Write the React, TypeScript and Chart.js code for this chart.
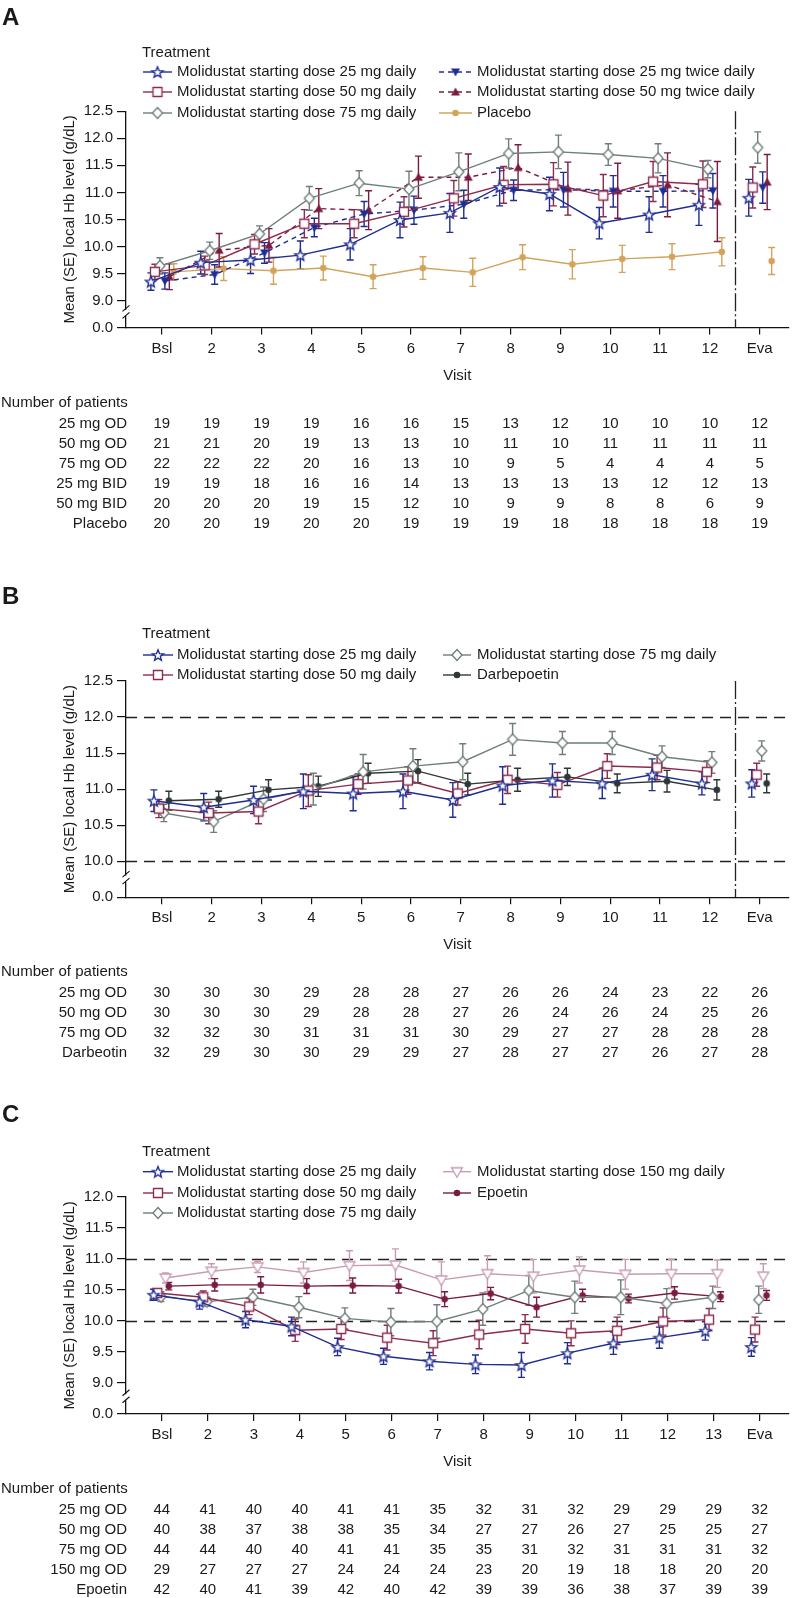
import React, { useEffect, useRef } from 'react';
import { Chart, registerables } from 'chart.js';

Chart.register(...registerables);

const FONT = "'Liberation Sans', Arial, Helvetica, sans-serif";
const TXT = '#1a1a1a';

Chart.defaults.font.family = FONT;
Chart.defaults.font.size = 15;
Chart.defaults.color = TXT;

// ---------------- Panel A ----------------
const visitsA = ['Bsl', '2', '3', '4', '5', '6', '7', '8', '9', '10', '11', '12', 'Eva'];
const yTicksA = [8.5, 9.0, 9.5, 10.0, 10.5, 11.0, 11.5, 12.0, 12.5];

const a25od = [9.35, 9.70, 9.75, 9.84, 10.04, 10.49, 10.62, 11.10, 10.97, 10.43, 10.59, 10.77, 10.90];
const a25odSe = [0.16, 0.21, 0.25, 0.26, 0.29, 0.33, 0.36, 0.35, 0.31, 0.29, 0.33, 0.38, 0.34];
const a50od = [9.53, 9.65, 10.04, 10.42, 10.42, 10.64, 10.89, 11.14, 11.15, 10.94, 11.20, 11.15, 11.09];
const a50odSe = [0.14, 0.17, 0.18, 0.26, 0.26, 0.28, 0.33, 0.34, 0.40, 0.39, 0.37, 0.43, 0.38];
const a75od = [9.64, 9.92, 10.23, 10.89, 11.17, 11.06, 11.38, 11.72, 11.75, 11.70, 11.63, 11.43, 11.83];
const a75odSe = [0.15, 0.16, 0.15, 0.22, 0.23, 0.33, 0.35, 0.27, 0.31, 0.20, 0.27, 0.16, 0.29];
const a25bid = [9.36, 9.48, 9.88, 10.35, 10.60, 10.67, 10.78, 11.04, 11.05, 11.02, 11.02, 11.03, 11.09];
const a25bidSe = [0.15, 0.18, 0.19, 0.17, 0.23, 0.26, 0.26, 0.19, 0.32, 0.29, 0.29, 0.32, 0.29];
const a50bid = [9.44, 9.93, 10.02, 10.70, 10.67, 11.28, 11.28, 11.46, 11.07, 11.03, 11.14, 10.83, 11.19];
const a50bidSe = [0.24, 0.31, 0.31, 0.37, 0.36, 0.39, 0.43, 0.42, 0.49, 0.51, 0.59, 0.74, 0.51];
const aPlacebo = [9.53, 9.59, 9.55, 9.60, 9.44, 9.60, 9.52, 9.80, 9.67, 9.77, 9.81, 9.90, 9.73];
const aPlaceboSe = [0.15, 0.22, 0.25, 0.22, 0.22, 0.21, 0.26, 0.23, 0.27, 0.25, 0.24, 0.26, 0.25];

const nA25od = [19, 19, 19, 19, 16, 16, 15, 13, 12, 10, 10, 10, 12];
const nA50od = [21, 21, 20, 19, 13, 13, 10, 11, 10, 11, 11, 11, 11];
const nA75od = [22, 22, 22, 20, 16, 13, 10, 9, 5, 4, 4, 4, 5];
const nA25bid = [19, 19, 18, 16, 16, 14, 13, 13, 13, 13, 12, 12, 13];
const nA50bid = [20, 20, 20, 19, 15, 12, 10, 9, 9, 8, 8, 6, 9];
const nAPlacebo = [20, 20, 19, 20, 20, 19, 19, 19, 18, 18, 18, 18, 19];

// ---------------- Panel B ----------------
const visitsB = ['Bsl', '2', '3', '4', '5', '6', '7', '8', '9', '10', '11', '12', 'Eva'];
const yTicksB = [9.5, 10.0, 10.5, 11.0, 11.5, 12.0, 12.5];

const b25 = [10.84, 10.75, 10.85, 10.97, 10.94, 10.97, 10.85, 11.05, 11.12, 11.08, 11.20, 11.08, 11.08];
const b25Se = [0.15, 0.19, 0.19, 0.24, 0.24, 0.24, 0.24, 0.26, 0.23, 0.21, 0.22, 0.16, 0.19];
const b50 = [10.73, 10.67, 10.69, 10.98, 11.07, 11.12, 10.94, 11.13, 11.06, 11.32, 11.30, 11.24, 11.20];
const b50Se = [0.125, 0.15, 0.17, 0.22, 0.14, 0.19, 0.16, 0.19, 0.17, 0.17, 0.17, 0.15, 0.16];
const b75 = [10.67, 10.55, 10.86, 11.00, 11.24, 11.32, 11.38, 11.69, 11.64, 11.64, 11.45, 11.37, 11.53];
const b75Se = [0.12, 0.15, 0.17, 0.22, 0.24, 0.24, 0.25, 0.22, 0.16, 0.16, 0.15, 0.15, 0.14];
const bDarbe = [10.84, 10.86, 10.99, 11.04, 11.22, 11.25, 11.07, 11.13, 11.17, 11.08, 11.11, 10.99, 11.08];
const bDarbeSe = [0.13, 0.11, 0.14, 0.14, 0.14, 0.16, 0.15, 0.16, 0.12, 0.13, 0.15, 0.14, 0.13];

const nB25 = [30, 30, 30, 29, 28, 28, 27, 26, 26, 24, 23, 22, 26];
const nB50 = [30, 30, 30, 29, 28, 28, 27, 26, 24, 26, 24, 25, 26];
const nB75 = [32, 32, 30, 31, 31, 31, 30, 29, 27, 27, 28, 28, 28];
const nBDarbe = [32, 29, 30, 30, 29, 29, 27, 28, 27, 27, 26, 27, 28];

// ---------------- Panel C ----------------
const visitsC = ['Bsl', '2', '3', '4', '5', '6', '7', '8', '9', '10', '11', '12', '13', 'Eva'];
const yTicksC = [8.5, 9.0, 9.5, 10.0, 10.5, 11.0, 11.5, 12.0];

const c25 = [10.42, 10.31, 10.02, 9.91, 9.58, 9.43, 9.35, 9.30, 9.29, 9.48, 9.64, 9.73, 9.84, 9.58];
const c25Se = [0.09, 0.12, 0.13, 0.15, 0.14, 0.13, 0.14, 0.15, 0.20, 0.17, 0.18, 0.17, 0.15, 0.15];
const c50 = [10.45, 10.38, 10.23, 9.85, 9.87, 9.73, 9.64, 9.78, 9.87, 9.80, 9.84, 9.99, 10.02, 9.86];
const c50Se = [0.06, 0.10, 0.13, 0.18, 0.17, 0.20, 0.20, 0.23, 0.23, 0.20, 0.22, 0.22, 0.18, 0.20];
const c75 = [10.39, 10.31, 10.38, 10.22, 10.04, 9.98, 9.99, 10.19, 10.49, 10.38, 10.38, 10.28, 10.38, 10.34];
const c75Se = [0.08, 0.07, 0.13, 0.17, 0.17, 0.22, 0.27, 0.26, 0.24, 0.26, 0.28, 0.24, 0.18, 0.22];
const c150 = [10.69, 10.80, 10.87, 10.78, 10.89, 10.90, 10.66, 10.76, 10.72, 10.82, 10.75, 10.76, 10.76, 10.72];
const c150Se = [0.08, 0.12, 0.09, 0.17, 0.24, 0.26, 0.29, 0.29, 0.27, 0.21, 0.24, 0.23, 0.22, 0.20];
const cEpo = [10.56, 10.58, 10.58, 10.56, 10.57, 10.56, 10.35, 10.44, 10.22, 10.41, 10.36, 10.45, 10.39, 10.41];
const cEpoSe = [0.06, 0.10, 0.13, 0.12, 0.12, 0.11, 0.12, 0.10, 0.16, 0.10, 0.07, 0.10, 0.08, 0.08];

const nC25 = [44, 41, 40, 40, 41, 41, 35, 32, 31, 32, 29, 29, 29, 32];
const nC50 = [40, 38, 37, 38, 38, 35, 34, 27, 27, 26, 27, 25, 25, 27];
const nC75 = [44, 44, 40, 40, 41, 41, 35, 35, 31, 32, 31, 31, 31, 32];
const nC150 = [29, 27, 27, 27, 24, 24, 24, 23, 20, 19, 18, 18, 20, 20];
const nCEpo = [42, 40, 41, 39, 42, 40, 42, 39, 39, 36, 38, 37, 39, 39];

// ---------------- Styles ----------------
const BLUE = '#1f2d92';
const MAROON = '#8c2b4f';
const WINE = '#7a1c40';
const GRAY = '#6f7e79';
const TAN = '#d3a35c';
const DARK = '#2f3636';
const PINK = '#c79cb2';

type Marker = 'star' | 'square' | 'diamond' | 'triDown' | 'triUp' | 'dot' | 'triDownOpen';

interface SeriesSpec {
  label: string;
  mean: number[];
  se: number[];
  color: string;
  marker: Marker;
  dashed: boolean;
  offset: number;
}

interface TableRow { label: string; counts: number[] }

interface PanelSpec {
  letter: string;
  letterY: number;
  height: number;
  top: number;
  plotTop: number;
  plotBottom: number;
  visits: string[];
  xMin: number;
  xMax: number;
  yMin: number;
  yMax: number;
  yTicks: number[];
  breakAt: number;
  refLines: number[];
  sep: number | null;
  series: SeriesSpec[];
  perCol: number;
  legendTitleY: number;
  legendRowY: number[];
  legendCols: { x0: number; x1: number; tx: number }[];
  table: TableRow[];
}

const panelA: PanelSpec = {
  letter: 'A', letterY: 18, height: 560, top: 0, plotTop: 111.3, plotBottom: 327.5,
  visits: visitsA, xMin: -0.72, xMax: 12.58, yMin: 8.5, yMax: 12.5, yTicks: yTicksA,
  breakAt: 8.77, refLines: [], sep: 11.5,
  series: [
    { label: 'Molidustat starting dose 25 mg daily', mean: a25od, se: a25odSe, color: BLUE, marker: 'star', dashed: false, offset: -0.22 },
    { label: 'Molidustat starting dose 50 mg daily', mean: a50od, se: a50odSe, color: MAROON, marker: 'square', dashed: false, offset: -0.14 },
    { label: 'Molidustat starting dose 75 mg daily', mean: a75od, se: a75odSe, color: GRAY, marker: 'diamond', dashed: false, offset: -0.04 },
    { label: 'Molidustat starting dose 25 mg twice daily', mean: a25bid, se: a25bidSe, color: BLUE, marker: 'triDown', dashed: true, offset: 0.06 },
    { label: 'Molidustat starting dose 50 mg twice daily', mean: a50bid, se: a50bidSe, color: WINE, marker: 'triUp', dashed: true, offset: 0.15 },
    { label: 'Placebo', mean: aPlacebo, se: aPlaceboSe, color: TAN, marker: 'dot', dashed: false, offset: 0.24 },
  ],
  perCol: 3, legendTitleY: 53, legendRowY: [72, 92, 113],
  legendCols: [{ x0: 143, x1: 172, tx: 177 }, { x0: 439, x1: 472, tx: 477 }],
  table: [
    { label: '25 mg OD', counts: nA25od },
    { label: '50 mg OD', counts: nA50od },
    { label: '75 mg OD', counts: nA75od },
    { label: '25 mg BID', counts: nA25bid },
    { label: '50 mg BID', counts: nA50bid },
    { label: 'Placebo', counts: nAPlacebo },
  ],
};

const panelB: PanelSpec = {
  letter: 'B', letterY: 37, height: 515, top: 560, plotTop: 121, plotBottom: 337.3,
  visits: visitsB, xMin: -0.72, xMax: 12.58, yMin: 9.5, yMax: 12.5, yTicks: yTicksB,
  breakAt: 9.76, refLines: [12.0, 10.0], sep: 11.5,
  series: [
    { label: 'Molidustat starting dose 25 mg daily', mean: b25, se: b25Se, color: BLUE, marker: 'star', dashed: false, offset: -0.16 },
    { label: 'Molidustat starting dose 50 mg daily', mean: b50, se: b50Se, color: MAROON, marker: 'square', dashed: false, offset: -0.06 },
    { label: 'Molidustat starting dose 75 mg daily', mean: b75, se: b75Se, color: GRAY, marker: 'diamond', dashed: false, offset: 0.04 },
    { label: 'Darbepoetin', mean: bDarbe, se: bDarbeSe, color: DARK, marker: 'dot', dashed: false, offset: 0.14 },
  ],
  perCol: 2, legendTitleY: 74, legendRowY: [95, 115],
  legendCols: [{ x0: 143, x1: 173, tx: 177 }, { x0: 443, x1: 471, tx: 477 }],
  table: [
    { label: '25 mg OD', counts: nB25 },
    { label: '50 mg OD', counts: nB50 },
    { label: '75 mg OD', counts: nB75 },
    { label: 'Darbeotin', counts: nBDarbe },
  ],
};

const panelC: PanelSpec = {
  letter: 'C', letterY: 40, height: 523, top: 1075, plotTop: 121.7, plotBottom: 339,
  visits: visitsC, xMin: -0.78, xMax: 13.63, yMin: 8.5, yMax: 12.0, yTicks: yTicksC,
  breakAt: 8.77, refLines: [11.0, 10.0], sep: null,
  series: [
    { label: 'Molidustat starting dose 25 mg daily', mean: c25, se: c25Se, color: BLUE, marker: 'star', dashed: false, offset: -0.18 },
    { label: 'Molidustat starting dose 50 mg daily', mean: c50, se: c50Se, color: MAROON, marker: 'square', dashed: false, offset: -0.1 },
    { label: 'Molidustat starting dose 75 mg daily', mean: c75, se: c75Se, color: GRAY, marker: 'diamond', dashed: false, offset: -0.02 },
    { label: 'Molidustat starting dose 150 mg daily', mean: c150, se: c150Se, color: PINK, marker: 'triDownOpen', dashed: false, offset: 0.08 },
    { label: 'Epoetin', mean: cEpo, se: cEpoSe, color: WINE, marker: 'dot', dashed: false, offset: 0.15 },
  ],
  perCol: 3, legendTitleY: 76.7, legendRowY: [96.7, 118, 138],
  legendCols: [{ x0: 143, x1: 173, tx: 177 }, { x0: 443, x1: 471, tx: 477 }],
  table: [
    { label: '25 mg OD', counts: nC25 },
    { label: '50 mg OD', counts: nC50 },
    { label: '75 mg OD', counts: nC75 },
    { label: '150 mg OD', counts: nC150 },
    { label: 'Epoetin', counts: nCEpo },
  ],
};

// ---------------- Markers ----------------
const markerCache = new Map<string, HTMLCanvasElement>();
function markerCanvas(m: Marker, color: string): HTMLCanvasElement {
  const key = m + color;
  const hit = markerCache.get(key);
  if (hit) return hit;
  const S = 16;
  const c = document.createElement('canvas');
  c.width = S;
  c.height = S;
  const g = c.getContext('2d')!;
  const cx = S / 2, cy = S / 2;
  g.lineWidth = 1.35;
  g.strokeStyle = color;
  g.fillStyle = '#fff';
  g.beginPath();
  switch (m) {
    case 'star': {
      const R = 5.8, r = 2.5;
      for (let i = 0; i < 10; i++) {
        const a = -Math.PI / 2 + (i * Math.PI) / 5;
        const rr = i % 2 ? r : R;
        g.lineTo(cx + rr * Math.cos(a), cy + 0.6 + rr * Math.sin(a));
      }
      g.closePath();
      g.fill();
      g.stroke();
      break;
    }
    case 'square':
      g.rect(cx - 4.5, cy - 4.5, 9, 9);
      g.fill();
      g.stroke();
      break;
    case 'diamond':
      g.moveTo(cx, cy - 5.5);
      g.lineTo(cx + 5, cy);
      g.lineTo(cx, cy + 5.5);
      g.lineTo(cx - 5, cy);
      g.closePath();
      g.fill();
      g.stroke();
      break;
    case 'triDown':
      g.moveTo(cx - 4.5, cy - 3.5);
      g.lineTo(cx + 4.5, cy - 3.5);
      g.lineTo(cx, cy + 4.5);
      g.closePath();
      g.fillStyle = color;
      g.fill();
      break;
    case 'triUp':
      g.moveTo(cx - 4.5, cy + 3.5);
      g.lineTo(cx + 4.5, cy + 3.5);
      g.lineTo(cx, cy - 4.5);
      g.closePath();
      g.fillStyle = color;
      g.fill();
      break;
    case 'dot':
      g.arc(cx, cy, 3.3, 0, Math.PI * 2);
      g.fillStyle = color;
      g.fill();
      break;
    case 'triDownOpen':
      g.moveTo(cx - 5.5, cy - 4);
      g.lineTo(cx + 5.5, cy - 4);
      g.lineTo(cx, cy + 5.5);
      g.closePath();
      g.fill();
      g.stroke();
      break;
  }
  markerCache.set(key, c);
  return c;
}

// ---------------- Config ----------------
function buildConfig(p: PanelSpec): any {
  const n = p.visits.length;
  const datasets = p.series.map((s) => ({
    label: s.label,
    data: s.mean.map((v, i) => ({ x: i + s.offset, y: v })),
    borderColor: s.color,
    backgroundColor: s.color,
    borderWidth: 1.4,
    borderDash: s.dashed ? [5, 4] : [],
    pointStyle: markerCanvas(s.marker, s.color),
    pointRadius: 5,
    pointHoverRadius: 5,
    tension: 0,
    fill: false,
    segment: {
      borderColor: (ctx: any) => (ctx.p1DataIndex === n - 1 ? 'rgba(0,0,0,0)' : s.color),
    },
  }));

  const decor = {
    id: 'decor' + p.letter,
    beforeDatasetsDraw(chart: any) {
      const ctx: CanvasRenderingContext2D = chart.ctx;
      const { top, bottom, left, right } = chart.chartArea;
      const xs = chart.scales.x, ys = chart.scales.y;
      ctx.save();
      ctx.strokeStyle = '#222';
      ctx.lineWidth = 1.5;
      ctx.setLineDash([11, 7]);
      for (const v of p.refLines) {
        const y = Math.round(ys.getPixelForValue(v)) + 0.5;
        ctx.beginPath();
        ctx.moveTo(left, y);
        ctx.lineTo(right, y);
        ctx.stroke();
      }
      if (p.sep !== null) {
        const x = Math.round(xs.getPixelForValue(p.sep)) + 0.5;
        ctx.setLineDash([18, 3, 2, 3]);
        ctx.lineWidth = 1.3;
        ctx.beginPath();
        ctx.moveTo(x, top);
        ctx.lineTo(x, bottom);
        ctx.stroke();
      }
      ctx.setLineDash([]);
      ctx.lineWidth = 1.4;
      p.series.forEach((s, i) => {
        const meta = chart.getDatasetMeta(i);
        ctx.strokeStyle = s.color;
        meta.data.forEach((pt: any, j: number) => {
          const x = pt.x;
          const y1 = ys.getPixelForValue(s.mean[j] + s.se[j]);
          const y2 = ys.getPixelForValue(s.mean[j] - s.se[j]);
          ctx.beginPath();
          ctx.moveTo(x, y1);
          ctx.lineTo(x, y2);
          ctx.moveTo(x - 3.5, y1);
          ctx.lineTo(x + 3.5, y1);
          ctx.moveTo(x - 3.5, y2);
          ctx.lineTo(x + 3.5, y2);
          ctx.stroke();
        });
      });
      ctx.restore();
    },
    afterDraw(chart: any) {
      const ctx: CanvasRenderingContext2D = chart.ctx;
      const { top, bottom, left, right } = chart.chartArea;
      const xs = chart.scales.x, ys = chart.scales.y;
      ctx.save();
      // axis break
      const yb = ys.getPixelForValue(p.breakAt);
      ctx.fillStyle = '#fff';
      ctx.fillRect(left - 3, yb - 3, 6, 6);
      ctx.strokeStyle = '#111';
      ctx.lineWidth = 1.1;
      ctx.beginPath();
      ctx.moveTo(left - 3.5, yb - 1.5);
      ctx.lineTo(left + 3.5, yb - 7.5);
      ctx.moveTo(left - 3.5, yb + 5.5);
      ctx.lineTo(left + 3.5, yb - 0.5);
      ctx.stroke();

      ctx.fillStyle = TXT;
      // panel letter
      ctx.font = `bold 24px ${FONT}`;
      ctx.textAlign = 'left';
      ctx.textBaseline = 'middle';
      ctx.fillText(p.letter, 2, p.letterY);

      ctx.font = `15px ${FONT}`;
      // y title
      ctx.save();
      ctx.translate(70, (top + bottom) / 2);
      ctx.rotate(-Math.PI / 2);
      ctx.textAlign = 'center';
      ctx.fillText('Mean (SE) local Hb level (g/dL)', 0, 0);
      ctx.restore();

      // x title
      ctx.textAlign = 'center';
      ctx.fillText('Visit', (left + right) / 2, bottom + 48);

      // legend
      ctx.textAlign = 'left';
      ctx.fillText('Treatment', 142, p.legendTitleY);
      p.series.forEach((s, i) => {
        const col = i < p.perCol ? 0 : 1;
        const row = i < p.perCol ? i : i - p.perCol;
        const c = p.legendCols[col];
        const y = p.legendRowY[row];
        ctx.strokeStyle = s.color;
        ctx.lineWidth = 1.4;
        ctx.setLineDash(s.dashed ? [5, 4] : []);
        ctx.beginPath();
        ctx.moveTo(c.x0, y);
        ctx.lineTo(c.x1, y);
        ctx.stroke();
        ctx.setLineDash([]);
        const img = markerCanvas(s.marker, s.color);
        ctx.drawImage(img, (c.x0 + c.x1) / 2 - img.width / 2, y - img.height / 2);
        ctx.fillStyle = TXT;
        ctx.fillText(s.label, c.tx, y);
      });

      // table
      ctx.textAlign = 'left';
      ctx.fillText('Number of patients', 1, bottom + 75);
      p.table.forEach((r, ri) => {
        const y = bottom + 96 + ri * 20;
        ctx.textAlign = 'right';
        ctx.fillText(r.label, 127, y);
        ctx.textAlign = 'center';
        r.counts.forEach((cnt, ci) => {
          ctx.fillText(String(cnt), xs.getPixelForValue(ci), y);
        });
      });
      ctx.restore();
    },
  };

  return {
    type: 'line',
    data: { datasets },
    options: {
      responsive: false,
      maintainAspectRatio: false,
      animation: false,
      devicePixelRatio: 1,
      events: [],
      layout: { padding: { top: p.plotTop, left: 0, right: 0, bottom: 0 } },
      plugins: { legend: { display: false }, tooltip: { enabled: false } },
      scales: {
        x: {
          type: 'linear',
          min: p.xMin,
          max: p.xMax,
          afterBuildTicks: (s: any) => {
            s.ticks = p.visits.map((_, i) => ({ value: i }));
          },
          afterFit: (s: any) => {
            s.height = p.height - p.plotBottom;
          },
          ticks: {
            autoSkip: false,
            maxRotation: 0,
            padding: 5,
            color: TXT,
            font: { size: 15, family: FONT },
            callback: (v: any) => p.visits[Math.round(v)] ?? '',
          },
          grid: { drawOnChartArea: false, drawTicks: true, tickLength: 7, color: '#111', lineWidth: 1.2 },
          border: { display: true, color: '#111', width: 1.3 },
        },
        y: {
          type: 'linear',
          min: p.yMin,
          max: p.yMax,
          afterBuildTicks: (s: any) => {
            s.ticks = p.yTicks.map((v) => ({ value: v }));
          },
          afterFit: (s: any) => {
            s.width = 126;
          },
          ticks: {
            padding: 4,
            color: TXT,
            font: { size: 15, family: FONT },
            callback: (v: any) => (Math.abs(v - p.yMin) < 1e-6 ? '0.0' : Number(v).toFixed(1)),
          },
          grid: { drawOnChartArea: false, drawTicks: true, tickLength: 9, color: '#111', lineWidth: 1.2 },
          border: { display: true, color: '#111', width: 1.3 },
        },
      },
    },
    plugins: [decor],
  };
}

function Panel({ spec }: { spec: PanelSpec }) {
  const ref = useRef<HTMLCanvasElement>(null);
  useEffect(() => {
    const chart = new Chart(ref.current as HTMLCanvasElement, buildConfig(spec));
    return () => chart.destroy();
  }, [spec]);
  return (
    <canvas
      ref={ref}
      width={795}
      height={spec.height}
      style={{ position: 'absolute', left: 0, top: spec.top, width: 795, height: spec.height }}
    />
  );
}

export default function App() {
  return (
    <div style={{ position: 'absolute', left: 0, top: 0, width: 795, height: 1598, background: '#fff', overflow: 'hidden' }}>
      <Panel spec={panelA} />
      <Panel spec={panelB} />
      <Panel spec={panelC} />
    </div>
  );
}
